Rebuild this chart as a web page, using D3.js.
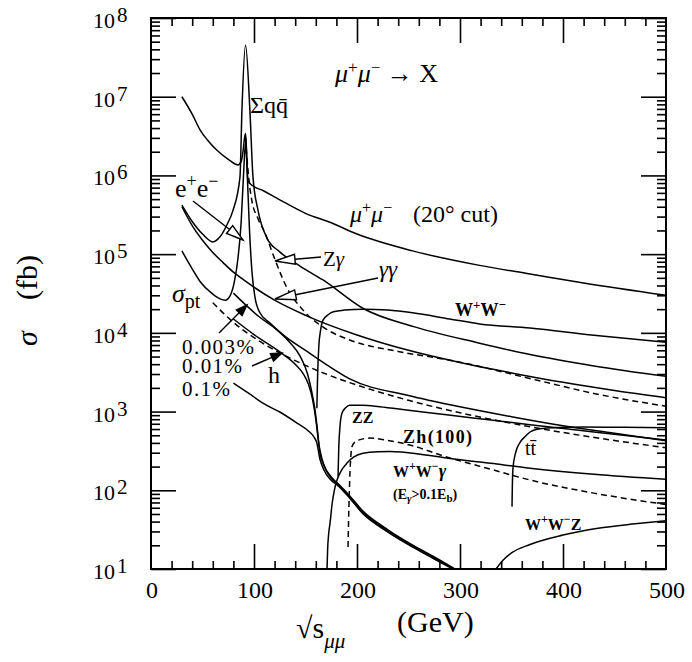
<!DOCTYPE html>
<html><head><meta charset="utf-8">
<script src="https://cdn.jsdelivr.net/npm/d3@7"></script>
<style>body{margin:0;background:#fff}text{font-family:"Liberation Serif","Times New Roman",serif;fill:#000}</style>
</head><body>
<svg id="c" width="692" height="662"></svg>
<script>
// ---- data (sqrt(s) in GeV, sigma in fb) ----
const xTickVals = [0,100,200,300,400,500];
const yDecades = [1,2,3,4,5,6,7,8];
const mumu = [[30,1e7],[40,6e6],[47.6,3.8e6],[55,2.8e6],[63.8,2.1e6],[75,1.6e6],[84.5,1.36e6],[87.5,1.5e6],[89.5,2.1e6],[90.8,3e6],[91.8,3.4e6],[92.8,2e6],[94,9e5],[96,7.9e5],[110,6.3e5],[125,4.9e5],[150,3.3e5],[175,2.5e5],[200,1.8e5],[254,1.1e5],[319,7.2e4],[368,5.6e4],[420,4.3e4],[500,3.0e4]];
const qqbar = [[30,4.2e5],[40,2.6e5],[50,1.8e5],[60,1.43e5],[67,1.66e5],[74,2.4e5],[79.6,3.6e5],[86.4,9.6e5],[88.3,6.8e6],[91.8,4.5e7],[96,6.8e6],[99,9.6e5],[103.9,3.6e5],[112.6,1.6e5],[125,1.07e5],[145,7e4],[167,4.7e4],[206,2.04e4],[255,1.2e4],[319,7.4e3],[368,5.3e3],[430,3.8e3],[500,2.8e3]];
const ee = [[30,1.1e5],[40,6.5e4],[47.6,4.5e4],[60,3.1e4],[67,2.7e4],[72,2.6e4],[77,3e4],[81,4.5e4],[84.5,9e4],[87.5,2.5e5],[89.8,1e6],[91.8,2.6e6],[93.5,1e6],[95.5,2.2e5],[98,6e4],[101,2.8e4],[105.8,1.8e4],[115,1.35e4],[128,9.5e3],[151.5,5.8e3],[171,3.9e3],[193,2.6e3],[250,1.6e3],[300,1.15e3],[350,860],[400,660],[450,530],[500,425]];
const gamgam = [[30,4e5],[40,2.3e5],[50,1.5e5],[60,1.05e5],[70,7.8e4],[80,5.9e4],[90,4.7e4],[100,3.8e4],[120,2.6e4],[150,1.67e4],[200,9.4e3],[250,6e3],[300,4.2e3],[350,3.1e3],[400,2.35e3],[450,1.85e3],[500,1.5e3]];
const zgam = [[91.8,3e6],[93,1.8e6],[95,9e5],[97.8,4.9e5],[104,2.8e5],[110.7,1.85e5],[120.4,8.5e4],[131.7,3.8e4],[147.6,1.95e4],[170.9,1.1e4],[193,8.1e3],[240,5.8e3],[290,4.5e3],[375,2.5e3],[430,1.7e3],[500,1.17e3]];
const sigpt = [[60,2.41e4],[80,1.36e4],[100,8.7e3],[128,5.3e3],[150,3.86e3],[184,2.56e3],[200,2.17e3],[250,1.39e3],[300,965],[350,709],[400,543],[450,429],[500,347]];
const ww = [[161,1.1e3],[161.8,3e3],[163,7e3],[164.5,1.05e4],[167,1.45e4],[172,1.7e4],[177,1.85e4],[188,1.95e4],[206,2.0e4],[230,1.95e4],[254,1.8e4],[290,1.5e4],[319,1.3e4],[368,1.15e4],[430,9.3e3],[500,7.6e3]];
const zz = [[181.6,150],[182.3,350],[183.5,650],[185.4,950],[189,1.12e3],[193,1.2e3],[205,1.2e3],[222,1.15e3],[250,1.04e3],[287,910],[330,780],[368,680],[430,550],[500,435]];
const zh = [[191.3,19],[191.8,40],[192.5,90],[193.2,170],[194,270],[195,355],[198,410],[202.9,440],[212.6,460],[230,430],[250,380],[287,265],[330,185],[368,135],[430,92],[500,66]];
const wwg = [[170.9,10],[171.5,18],[172.5,28],[173.8,38],[176,70],[178,100],[180.6,135],[185,180],[190.3,222],[197,265],[205.8,295],[220,308],[232,310],[260,290],[287,257],[330,220],[368,191],[430,160],[500,138]];
const ttbar = [[350.5,62],[350.8,110],[351.5,195],[354,300],[358,400],[363,480],[368,550],[376,600],[384.5,620],[420,635],[460,630],[500,625]];
const wwz = [[335,10],[342,13],[350,16],[368,20.5],[400,27],[434,33],[470,37.5],[500,41]];
const h003 = [[80,3.2e4],[93,2.2e4],[105,1.6e4],[122,1.1e4],[135,7.5e3],[145,5e3],[152,3e3],[156,1.8e3],[159,1.1e3],[161.5,600],[164,300],[168,205],[175,148],[182,120],[190,94],[206,54],[230,31.5],[255,19.8],[275,14.2],[295,10]];
const h001 = [[80,1.5e4],[100,9.5e3],[127,5.5e3],[140,4e3],[148,3e3],[153,2.2e3],[157,1.4e3],[160,800],[163,380],[166,250],[170,180],[175,142],[182,116],[190,91],[206,52],[230,30.5],[255,19.2],[275,13.8],[294,10]];
const h01 = [[80,2.3e3],[95,1.7e3],[110,1.25e3],[125.5,980],[140,740],[154,550],[158,480],[161,400],[164,250],[168,180],[174,138],[182,113],[190,88],[206,50],[230,29.5],[255,18.7],[275,13.4],[293,10]];

// ---- layout ----
const svg = d3.select("#c");
const x = d3.scaleLinear().domain([0,500]).range([151,666]);
const y = d3.scaleLog().domain([10,1e8]).range([569,18]);
const X0=151,X1=666,Y0=569,Y1=18;

svg.append("defs").append("clipPath").attr("id","pa").append("rect")
  .attr("x",X0).attr("y",Y1).attr("width",X1-X0).attr("height",Y0-Y1);

// ticks
const minorX = d3.range(0,501,20).filter(v=>v%100!==0);
const majorX = [100,200,300,400];
const majorY = yDecades.map(e=>Math.pow(10,e));
const minorY = [];
for (let e=1;e<8;e++) for (let m=2;m<=9;m++) minorY.push(m*Math.pow(10,e));

function ax(gen, tx, ty){
  const g = svg.append("g").attr("transform",`translate(${tx},${ty})`).call(gen);
  g.select(".domain").remove();
  g.selectAll("text").remove();
  g.selectAll("line").attr("stroke","#000").attr("stroke-width",1.6);
  return g;
}
ax(d3.axisBottom(x).tickValues(majorX).tickSize(-25),0,Y0);
ax(d3.axisBottom(x).tickValues(minorX).tickSize(-8),0,Y0);
ax(d3.axisTop(x).tickValues(majorX).tickSize(-25),0,Y1);
ax(d3.axisTop(x).tickValues(minorX).tickSize(-8),0,Y1);
ax(d3.axisLeft(y).tickValues(majorY).tickSize(-25),X0,0);
ax(d3.axisLeft(y).tickValues(minorY).tickSize(-9),X0,0);
ax(d3.axisRight(y).tickValues(majorY).tickSize(-25),X1,0);
ax(d3.axisRight(y).tickValues(minorY).tickSize(-9),X1,0);

svg.append("rect").attr("x",X0).attr("y",Y1).attr("width",X1-X0).attr("height",Y0-Y1)
  .attr("fill","none").attr("stroke","#000").attr("stroke-width",2);

// tick labels
xTickVals.forEach(v=>{
  svg.append("text").attr("x",x(v)+1).attr("y",598).attr("text-anchor","middle")
    .attr("font-size",24).text(v);
});
yDecades.forEach(e=>{
  const t = svg.append("text").attr("x",93).attr("y",y(Math.pow(10,e))+10).attr("font-size",22);
  t.append("tspan").text("10");
  t.append("tspan").attr("dx",2).attr("dy",-6).attr("font-size",21).text(e);
});

// curves
const line = d3.line().x(d=>x(d[0])).y(d=>y(d[1])).curve(d3.curveMonotoneX);
const cg = svg.append("g").attr("clip-path","url(#pa)").attr("fill","none").attr("stroke","#000").attr("stroke-width",1.5);
const solid = [mumu,qqbar,ee,gamgam,ww,zz,wwg,ttbar,wwz,h003,h001,h01];
const dashed = [zgam,sigpt,zh];
solid.forEach(s=>cg.append("path").attr("d",line(s)));
dashed.forEach(s=>cg.append("path").attr("d",line(s)).attr("stroke-dasharray","6,4"));

// labels helper
function lab(px,py,parts,fs,extra){
  const t = svg.append("text").attr("x",px).attr("y",py).attr("font-size",fs);
  if (extra) Object.entries(extra).forEach(([k,v])=>t.attr(k,v));
  let cur=0;
  parts.forEach(p=>{
    const sh = p.sh||0;
    const s = t.append("tspan").attr("dy",sh-cur).text(p.t);
    cur = sh;
    if (p.fs) s.attr("font-size",p.fs);
    if (p.it) s.attr("font-style","italic");
    if (p.dx) s.attr("dx",p.dx);
  });
  return t;
}
lab(335,82,[{t:"μ",it:1},{t:"+",sh:-9,fs:17},{t:"μ",it:1},{t:"−",sh:-9,fs:17},{t:" → X"}],26);
lab(250,113,[{t:"Σq"},{t:"q\u0304"}],24);
lab(175,197,[{t:"e"},{t:"+",sh:-10,fs:18},{t:"e"},{t:"−",sh:-10,fs:18}],26);
lab(350,222,[{t:"μ",it:1},{t:"+",sh:-9,fs:16},{t:"μ",it:1},{t:"−",sh:-9,fs:16}],24);
lab(413,222,[{t:"(20° cut)"}],24);
lab(323,266,[{t:"Z"},{t:"γ",it:1}],21);
lab(379,277,[{t:"γγ",it:1}],23);
lab(455,316,[{t:"W"},{t:"+",sh:-7,fs:13},{t:"W"},{t:"−",sh:-7,fs:13}],18,{"font-weight":"bold"});
lab(172,302,[{t:"σ",it:1},{t:"pt",sh:6,fs:20}],26);
lab(182,354,[{t:"0.003%"}],21,{"textLength":72});
lab(182,373,[{t:"0.01%"}],21,{"textLength":60});
lab(182,396,[{t:"0.1%"}],21,{"textLength":48});
lab(268,383,[{t:"h"}],24);
lab(352,423,[{t:"ZZ"}],16,{"font-weight":"bold"});
lab(403,443,[{t:"Zh(100)"}],18,{"font-weight":"bold","textLength":69});
lab(393,477,[{t:"W"},{t:"+",sh:-7,fs:12},{t:"W"},{t:"−",sh:-7,fs:12},{t:"γ",it:1,sh:0,fs:18}],16,{"font-weight":"bold"});
lab(393,499,[{t:"(E"},{t:"γ",sh:3,fs:11,it:1},{t:">0.1E",sh:0},{t:"b",sh:3,fs:11},{t:")",sh:0}],14,{"font-weight":"bold"});
lab(525,455,[{t:"t"},{t:"t\u0304"}],20);
lab(525,530,[{t:"W"},{t:"+",sh:-7,fs:12},{t:"W"},{t:"−",sh:-7,fs:12},{t:"Z"}],16,{"font-weight":"bold"});

// axis titles
lab(0,0,[{t:"σ",it:1}],30,{"transform":"translate(37,346) rotate(-90)"});
lab(0,0,[{t:"(fb)"}],30,{"transform":"translate(37,300) rotate(-90)"});
lab(296,638,[{t:"√s",fs:30},{t:"μμ",sh:10,fs:21,it:1}],30);
lab(397,632,[{t:"(GeV)"}],30);

// arrows
const ag = svg.append("g").attr("stroke","#000").attr("stroke-width",1.4);
function openArrow(x1,y1,x2,y2,len,hw){
  const a=Math.atan2(y2-y1,x2-x1), c=Math.cos(a), s=Math.sin(a);
  const bx=x2-len*c, by=y2-len*s;
  ag.append("line").attr("x1",x1).attr("y1",y1).attr("x2",bx).attr("y2",by);
  ag.append("path").attr("d",`M${x2},${y2}L${bx-hw*s},${by+hw*c}L${bx+hw*s},${by-hw*c}Z`).attr("fill","#fff");
}
function fillArrow(x1,y1,x2,y2,len,hw){
  const a=Math.atan2(y2-y1,x2-x1), c=Math.cos(a), s=Math.sin(a);
  const bx=x2-len*c, by=y2-len*s;
  ag.append("line").attr("x1",x1).attr("y1",y1).attr("x2",bx+2*c).attr("y2",by+2*s);
  ag.append("path").attr("d",`M${x2},${y2}L${bx-hw*s},${by+hw*c}L${bx+hw*s},${by-hw*c}Z`).attr("fill","#000");
}
openArrow(193,201,243,240,17,5);
openArrow(321,257,275,261,20,5);
openArrow(378,278,275,299,21,5);
fillArrow(219,333,247,305,11,4);
fillArrow(252,366,282,353,11,4);
</script></body></html>
